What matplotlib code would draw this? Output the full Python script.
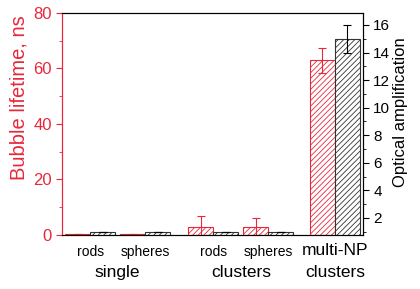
import numpy as np
import matplotlib.pyplot as plt
from matplotlib.ticker import MultipleLocator

plt.rcParams['font.family'] = ['Liberation Sans', 'DejaVu Sans']
plt.rcParams['hatch.linewidth'] = 0.6

# data
sub_labels = ['rods', 'spheres', 'rods', 'spheres', 'multi-NP\nclusters']
group_labels = ['single', 'clusters']
lifetime = [0.3, 0.3, 3.0, 3.0, 63.0]        # ns, left axis
lifetime_err = [0, 0, 4.0, 3.0, 4.5]
amplification = [0.95, 0.95, 0.95, 0.95, 15.0]  # right axis
amplification_err = [0, 0, 0, 0, 1.0]

pos = np.array([0, 1, 2.24, 3.24, 4.45])
w = 0.455
red = '#e8283a'

fig = plt.figure(figsize=(4.2, 2.89), dpi=100)
ax1 = fig.add_axes([0.148, 0.187, 0.716, 0.768])
ax2 = ax1.twinx()

ax1.bar(pos - w/2, lifetime, w, color='white', edgecolor=red, hatch='//////',
        linewidth=0.8, yerr=lifetime_err, ecolor=red,
        error_kw=dict(capsize=3, elinewidth=0.8, capthick=0.8))
ax2.bar(pos + w/2, np.array(amplification) - 0.767, w, bottom=0.767,
        color='white', edgecolor='#333333', hatch='//////', linewidth=0.8,
        yerr=amplification_err, ecolor='black',
        error_kw=dict(capsize=3, elinewidth=0.8, capthick=0.8))

ax1.set_xlim(-0.51, 4.96)
ax1.set_ylim(0, 80)
ax2.set_ylim(0.767, 16.87)

ax1.set_xticks([])
ax1.yaxis.set_major_locator(MultipleLocator(20))
ax1.yaxis.set_minor_locator(MultipleLocator(10))
ax2.yaxis.set_minor_locator(MultipleLocator(1))
ax2.set_yticks(np.arange(2, 17, 2))

ax1.tick_params(axis='y', which='both', direction='out', colors=red, labelsize=12)
ax1.tick_params(axis='y', which='major', length=4)
ax1.tick_params(axis='y', which='minor', length=2.5)
ax2.tick_params(axis='y', which='both', direction='out', colors='black', labelsize=11)
ax2.tick_params(axis='y', which='major', length=4)
ax2.tick_params(axis='y', which='minor', length=2.5)

ax2.spines['left'].set_color(red)
ax1.spines['left'].set_color(red)
for s in ['top', 'bottom', 'right']:
    ax2.spines[s].set_color('black')

ax1.set_ylabel('Bubble lifetime, ns', color=red, fontsize=14.5)
ax2.set_ylabel('Optical amplification', color='black', fontsize=12)
ax1.yaxis.set_label_coords(-0.113, 0.617)
ax2.yaxis.set_label_coords(1.10, 0.554)

for p, lab in zip(pos, sub_labels):
    if '\n' in lab:
        top, bot = lab.split('\n')
        ax1.text(p, -3.0, top, ha='center', va='top', fontsize=12.5)
        ax1.text(p, -11.0, bot, ha='center', va='top', fontsize=12.5)
    else:
        ax1.text(p, -3.5, lab, ha='center', va='top', fontsize=10)

ax1.text((pos[0] + pos[1]) / 2, -11.0, group_labels[0], ha='center', va='top', fontsize=12.5)
ax1.text((pos[2] + pos[3]) / 2, -11.0, group_labels[1], ha='center', va='top', fontsize=12.5)

fig.savefig('out.png', dpi=100)
